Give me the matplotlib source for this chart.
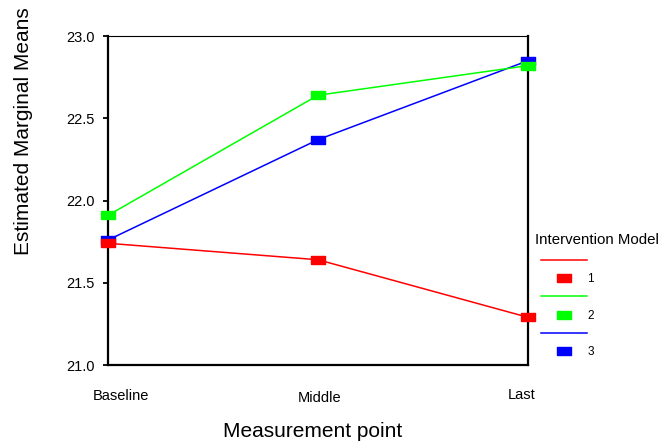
import matplotlib
matplotlib.use("Agg")
import matplotlib.pyplot as plt
from matplotlib.lines import Line2D
from matplotlib.transforms import ScaledTranslation

plt.rcParams['font.family'] = ['Liberation Sans', 'DejaVu Sans']

# estimated marginal means per measurement point
points = ["Baseline", "Middle", "Last"]
model_1 = [21.74, 21.64, 21.29]
model_2 = [21.91, 22.64, 22.82]
model_3 = [21.76, 22.37, 22.85]
models = ["1", "2", "3"]
colors = ["#ff0000", "#00ff00", "#0000ff"]
yticks = [21.0, 21.5, 22.0, 22.5, 23.0]

# flat rectangle marker, wider than tall
rect = [(-1, -0.58), (1, -0.58), (1, 0.58), (-1, 0.58), (-1, -0.58)]

fig = plt.figure(figsize=(6.64, 4.43), dpi=100)
ax = fig.add_axes([0.1627, 0.176, 0.6325, 0.7427])

x = range(len(points))
handles = []
labels = []
for i, (vals, c, name) in enumerate(zip([model_1, model_2, model_3], colors, models)):
    # first model sits on top where markers overlap
    ax.plot(x, vals, color=c, lw=1.1, marker=rect, ms=10.5, mec=c, mfc=c,
            clip_on=False, zorder=5 - i)
    handles += [Line2D([], [], color=c, lw=1.1),
                Line2D([], [], ls="none", marker=rect, ms=10.5, mec=c, mfc=c)]
    labels += ["", name]

ax.set_xlim(0, 2)
ax.set_ylim(21.0, 23.0)
ax.set_yticks(yticks)
ax.set_yticklabels(["%.1f" % v for v in yticks])
ax.set_xticks(list(x))
ax.set_xticklabels(points)

ax.tick_params(axis="y", length=3.5, width=1.3, pad=6, labelsize=10.5)
ax.tick_params(axis="x", length=0, pad=17, labelsize=10.5)

# nudge the category labels (dx right, dy down, in pixels)
offsets = [(13, 0), (2, 2), (-6, -1)]
for lab, (dx, dy) in zip(ax.get_xticklabels(), offsets):
    lab.set_transform(lab.get_transform() + ScaledTranslation(dx / 100, -dy / 100, fig.dpi_scale_trans))

for side in ["left", "bottom", "right"]:
    ax.spines[side].set_linewidth(1.6)
ax.spines["top"].set_linewidth(0.8)

ax.set_xlabel("Measurement point", fontsize=15)
ax.set_ylabel("Estimated Marginal Means", fontsize=15)
ax.xaxis.set_label_coords(0.486, -0.173)
ax.yaxis.set_label_coords(-0.179, 0.711)

fig.text(535 / 664, 1 - 240 / 443, "Intervention Model", fontsize=10.8, ha="left", va="center")
fig.legend(handles, labels, loc="upper left", bbox_to_anchor=(541 / 664, 1 - 255 / 443),
           frameon=False, fontsize=8.5, handlelength=3.9, handletextpad=0.0, borderpad=0,
           borderaxespad=0, labelspacing=0.53)

fig.savefig("out.png", dpi=100)
